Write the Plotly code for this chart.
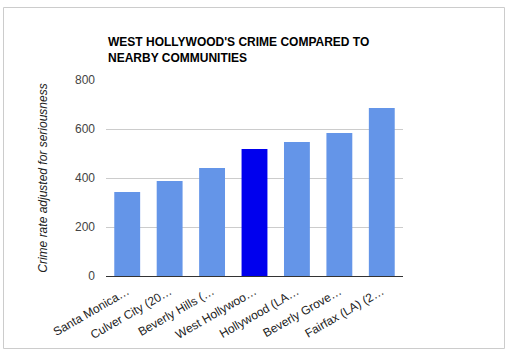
import plotly.graph_objects as go

categories = ["Santa Monica…", "Culver City (20…", "Beverly Hills (…", "West Hollywoo…",
              "Hollywood (LA…", "Beverly Grove…", "Fairfax (LA) (2…"]
values = [343, 388, 441, 518, 547, 584, 686]
highlight = "West Hollywoo…"
y_ticks = [0, 200, 400, 600, 800]

colors = ["#0000ee" if c == highlight else "#6495e8" for c in categories]

fig = go.Figure(go.Bar(x=categories, y=values, marker_color=colors, marker_line_width=0))

W, H = 511, 356
L, R, T, B = 106, 403, 80, 276
pw, ph = R - L, B - T

def px(x):
    return (x - L) / pw

def py(y):
    return (B - y) / ph

fig.update_layout(
    width=W, height=H,
    margin=dict(l=L, r=W - R, t=T, b=H - B),
    paper_bgcolor="white", plot_bgcolor="white",
    font=dict(family="Liberation Sans, Arial", size=12, color="#222"),
    bargap=0.39,
    showlegend=False,
    title=dict(
        text="<b>WEST HOLLYWOOD'S CRIME COMPARED TO<br>NEARBY COMMUNITIES</b>",
        x=108 / W, xanchor="left", xref="container",
        y=1 - 46 / H, yanchor="top", yref="container",
        font=dict(size=12, color="#000"),
    ),
    xaxis=dict(
        tickangle=-30, showgrid=False, showline=True, linecolor="#333", linewidth=1,
        tickfont=dict(size=12, color="#222"), ticks="", ticklabelstandoff=3,
    ),
    yaxis=dict(
        range=[0, 800], tickvals=y_ticks, showgrid=True, gridcolor="#cccccc",
        zeroline=False, tickfont=dict(size=12, color="#444"), ticks="",
        ticklabelstandoff=10,
        title=dict(text="Crime rate adjusted for seriousness",
                   font=dict(size=12, color="#222", style="italic"), standoff=24),
    ),
    shapes=[dict(type="rect", xref="paper", yref="paper",
                 x0=px(3.5), x1=px(504.5), y0=py(348.5), y1=py(7.5),
                 line=dict(color="#cccccc", width=1), fillcolor="rgba(0,0,0,0)", layer="below")],
)

fig.write_html("out.html", config={"displayModeBar": False},
               post_script="document.body.style.margin='0';document.body.style.padding='0';")
